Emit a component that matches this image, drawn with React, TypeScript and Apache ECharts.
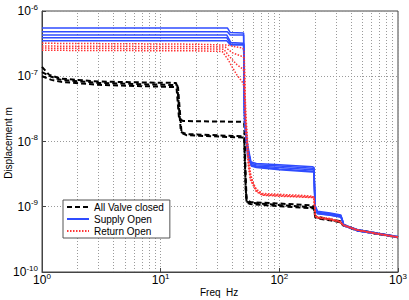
import React, { useEffect, useRef } from "react";
import * as echarts from "echarts";

// ---- data (frequency Hz, displacement m) ----
const legendNames = ["All Valve closed", "Supply Open", "Return Open"];
const xTitle = "Freq  Hz";
const yTitle = "Displacement m";

const closed1: [number, number][] = [[1,1.39e-7],[1.15,1.05e-7],[1.45,9.2e-8],[3,8.3e-8],[8,8.0e-8],[13.5,7.9e-8],[14.3,2.2e-8],[15.5,2.06e-8],[48.7,2.0e-8],[50.6,1.95e-8],[52,3e-9],[53,1.3e-9],[57,1.18e-9],[100,1.12e-9],[190,1.05e-9],[196,1.0e-9],[201,7.2e-10],[210,7.0e-10],[268,6.4e-10],[326,6.0e-10],[345,5.3e-10],[453,4.4e-10],[642,3.96e-10],[1000,3.44e-10]];
const closed2: [number, number][] = [[1,1.16e-7],[1.2,9.8e-8],[1.45,8.8e-8],[3,7.9e-8],[8,7.5e-8],[13.8,7.3e-8],[14.8,1.4e-8],[16.5,1.3e-8],[48.7,1.2e-8],[50.6,1.17e-8],[52,2e-9],[53,1.2e-9],[57,1.15e-9],[100,1.06e-9],[190,9.8e-10],[196,9.6e-10],[201,7.0e-10],[210,6.8e-10],[268,6.3e-10],[326,5.9e-10],[345,5.2e-10],[453,4.4e-10],[642,3.9e-10],[1000,3.4e-10]];
const closed3: [number, number][] = [[1,1.0e-7],[1.2,8.8e-8],[1.45,8.2e-8],[3,7.4e-8],[8,7.0e-8],[14,6.8e-8],[15,1.35e-8],[16.5,1.25e-8],[48.7,1.15e-8],[50.6,1.12e-8],[52,2e-9],[53,1.15e-9],[57,1.1e-9],[100,1.02e-9],[190,9.5e-10],[196,9.3e-10],[201,6.8e-10],[210,6.6e-10],[268,6.2e-10],[326,5.8e-10],[345,5.2e-10],[453,4.3e-10],[642,3.9e-10],[1000,3.4e-10]];

const supply1: [number, number][] = [[1,5.5e-7],[36.5,5.5e-7],[38.5,4.7e-7],[50,4.6e-7],[50.8,3e-8],[53,1e-8],[57,4.9e-9],[64,4.6e-9],[100,4.4e-9],[190,4.1e-9],[196,4.0e-9],[200,1.05e-9],[210,8.5e-10],[268,8.0e-10],[330,7.5e-10],[338,6.5e-10],[345,5.4e-10],[453,4.4e-10],[642,3.96e-10],[1000,3.44e-10]];
const supply2: [number, number][] = [[1,4.8e-7],[36.5,4.8e-7],[38.5,4.3e-7],[50,4.3e-7],[51,2.5e-8],[54,9e-9],[58,4.6e-9],[64,4.4e-9],[100,4.2e-9],[190,3.9e-9],[196,3.9e-9],[200,1.0e-9],[210,8.2e-10],[268,7.8e-10],[330,7.3e-10],[340,6.3e-10],[350,5.2e-10],[453,4.5e-10],[642,4.0e-10],[1000,3.5e-10]];
const supply3: [number, number][] = [[1,4.3e-7],[36,4.3e-7],[39,3.3e-7],[50,3.2e-7],[51,2e-8],[54,8e-9],[58,4.4e-9],[64,4.2e-9],[100,4.0e-9],[190,3.7e-9],[196,3.6e-9],[200,9.8e-10],[210,8.0e-10],[268,7.6e-10],[330,7.1e-10],[340,6.2e-10],[348,5.3e-10],[453,4.3e-10],[642,3.9e-10],[1000,3.4e-10]];
const supply4: [number, number][] = [[1,3.9e-7],[36,3.9e-7],[39,3.1e-7],[50,3.1e-7],[51,2e-8],[54,7e-9],[58,4.3e-9],[64,4.1e-9],[100,3.8e-9],[190,3.5e-9],[196,3.5e-9],[200,9.5e-10],[210,7.9e-10],[268,7.5e-10],[330,7.0e-10],[340,6.1e-10],[348,5.2e-10],[453,4.3e-10],[642,3.9e-10],[1000,3.4e-10]];
const supply5: [number, number][] = [[1,3.5e-7],[36,3.5e-7],[39,3.0e-7],[50,3.0e-7],[51,2e-8],[54,6e-9],[58,4.2e-9],[64,4.0e-9],[100,3.7e-9],[190,3.4e-9],[196,3.4e-9],[200,9.3e-10],[210,7.8e-10],[268,7.4e-10],[330,6.9e-10],[340,6.0e-10],[348,5.1e-10],[453,4.3e-10],[642,3.9e-10],[1000,3.4e-10]];

const return1: [number, number][] = [[1,3.2e-7],[20,3.1e-7],[36,3.0e-7],[40,2.9e-7],[49,2.7e-7],[50.5,2.5e-7],[52,3e-8],[55,6e-9],[57,3.3e-9],[60,2.3e-9],[64,1.85e-9],[72,1.6e-9],[100,1.55e-9],[150,1.5e-9],[190,1.45e-9],[196,1.4e-9],[201,7.5e-10],[210,7.0e-10],[268,6.6e-10],[326,6.0e-10],[345,5.3e-10],[453,4.4e-10],[642,3.96e-10],[1000,3.44e-10]];
const return2: [number, number][] = [[1,2.9e-7],[20,2.85e-7],[35,2.8e-7],[40,2.3e-7],[49,2.0e-7],[50.5,1.9e-7],[52,2.5e-8],[55,5e-9],[57,3.0e-9],[64,1.8e-9],[72,1.55e-9],[100,1.5e-9],[190,1.42e-9],[196,1.38e-9],[201,7.3e-10],[210,6.9e-10],[268,6.5e-10],[326,5.9e-10],[345,5.2e-10],[453,4.4e-10],[642,3.9e-10],[1000,3.4e-10]];
const return3: [number, number][] = [[1,2.7e-7],[20,2.65e-7],[34,2.6e-7],[38,2.0e-7],[44,1.5e-7],[49,1.3e-7],[50.5,1.2e-7],[52,2e-8],[55,4.5e-9],[57,2.8e-9],[64,1.75e-9],[72,1.52e-9],[100,1.48e-9],[190,1.4e-9],[196,1.36e-9],[201,7.2e-10],[210,6.8e-10],[268,6.4e-10],[326,5.9e-10],[345,5.2e-10],[453,4.4e-10],[642,3.9e-10],[1000,3.4e-10]];
const return4: [number, number][] = [[1,2.5e-7],[20,2.45e-7],[33,2.4e-7],[37,1.8e-7],[40,1.39e-7],[44,1.04e-7],[48.7,8.2e-8],[50.5,7e-8],[52,1.5e-8],[55,4e-9],[57,2.6e-9],[64,1.7e-9],[72,1.5e-9],[100,1.45e-9],[190,1.38e-9],[196,1.34e-9],[201,7.1e-10],[210,6.7e-10],[268,6.3e-10],[326,5.8e-10],[345,5.2e-10],[453,4.4e-10],[642,3.9e-10],[1000,3.4e-10]];

const closedLines = [closed1, closed2, closed3];
const supplyLines = [supply1, supply2, supply3, supply4, supply5];
const returnLines = [return1, return2, return3, return4];

const xDecades = [1, 10, 100];
const yDecades = [1e-10, 1e-9, 1e-8, 1e-7];
const minorSteps = [2, 3, 4, 5, 6, 7, 8, 9];

const FONT = "Liberation Sans, Arial, Helvetica, sans-serif";

export default function App() {
  const ref = useRef<HTMLDivElement>(null);
  useEffect(() => {
    if (!ref.current) return;
    const chart = echarts.init(ref.current, undefined, { renderer: "svg" });
    const xMinor = xDecades.flatMap((d) => minorSteps.map((k) => d * k));
    const yMinor = yDecades.flatMap((d) => minorSteps.map((k) => d * k));
    const gridLine = { type: [1, 2] as any, color: "#9a9a9a", width: 1 };
    const exp = (v: number) => Math.round(Math.log10(v));

    const mk = (name: string, data: [number, number][], lineStyle: any, z: number) => ({
      type: "line",
      name,
      data,
      symbol: "none",
      showSymbol: false,
      silent: true,
      z,
      lineStyle,
      itemStyle: { color: lineStyle.color },
    });

    const series: any[] = [
      {
        type: "line",
        name: "grid",
        data: [[1, 1e-10]],
        symbol: "none",
        lineStyle: { opacity: 0 },
        silent: true,
        z: 1,
        markLine: {
          silent: true,
          z: 1,
          symbol: ["none", "none"],
          label: { show: false },
          lineStyle: gridLine,
          data: [
            ...xMinor.map((v) => ({ xAxis: v })),
            ...yMinor.map((v) => ({ yAxis: v })),
          ],
        },
      },
      ...closedLines.map((d) => mk(legendNames[0], d, { color: "#000000", width: 2, type: [5, 3] }, 3)),
      ...supplyLines.map((d) => mk(legendNames[1], d, { color: "#2f4cff", width: 1.5, type: "solid" }, 4)),
      ...returnLines.map((d) => mk(legendNames[2], d, { color: "#ff3535", width: 1.5, type: [1.5, 1.5] }, 5)),
    ];

    const rich = {
      b: { fontSize: 12, fontFamily: FONT, color: "#000", lineHeight: 14 },
      s: { fontSize: 8, fontFamily: FONT, color: "#000", lineHeight: 10, padding: [0, 0, 8, 0] },
    };

    chart.setOption({
      animation: false,
      textStyle: { fontFamily: FONT },
      grid: {
        left: 42,
        right: 11,
        top: 11,
        bottom: 28,
        containLabel: false,
        outerBoundsMode: "none",
        show: true,
        borderColor: "#444",
        borderWidth: 1,
        backgroundColor: "#fff",
      },
      legend: {
        data: legendNames,
        orient: "vertical",
        left: 63,
        top: 200,
        z: 100,
        itemWidth: 22,
        itemHeight: 9,
        itemGap: 2,
        padding: [2, 6, 2, 3],
        borderColor: "#555",
        borderWidth: 1,
        backgroundColor: "#fff",
        itemStyle: { opacity: 0, borderWidth: 0 },
        textStyle: { fontSize: 10, color: "#000", fontFamily: FONT },
        selectedMode: false,
      },
      graphic: [
        {
          type: "text",
          left: 220 - 20,
          top: 287,
          style: { text: xTitle, fontSize: 10, fontFamily: FONT, fill: "#000" },
          z: 50,
        },
        {
          type: "text",
          x: 3,
          y: 143,
          rotation: Math.PI / 2,
          style: {
            text: yTitle,
            fontSize: 10,
            fontFamily: FONT,
            fill: "#000",
            align: "center",
            verticalAlign: "top",
          },
          z: 50,
        },
      ],
      xAxis: {
        type: "log",
        logBase: 10,
        min: 1,
        max: 1000,
        axisLine: { show: true, lineStyle: { color: "#444" } },
        axisTick: { show: true, inside: true, length: 4, lineStyle: { color: "#444" } },
        splitLine: { show: true, lineStyle: gridLine },
        axisLabel: {
          margin: 1,
          color: "#000",
          formatter: (v: number) => `{b|10}{s|${exp(v)}}`,
          rich,
        },
      },
      yAxis: {
        type: "log",
        logBase: 10,
        min: 1e-10,
        max: 1e-6,
        axisLine: { show: true, lineStyle: { color: "#444" } },
        axisTick: { show: true, inside: true, length: 4, lineStyle: { color: "#444" } },
        splitLine: { show: true, lineStyle: gridLine },
        axisLabel: {
          margin: 4,
          color: "#000",
          formatter: (v: number) => `{b|10}{s|${exp(v)}}`,
          rich,
        },
      },
      series,
    });
    return () => chart.dispose();
  }, []);
  return (
    <div
      ref={ref}
      style={{ position: "fixed", left: 0, top: 0, width: 409, height: 300, background: "#fff" }}
    />
  );
}
